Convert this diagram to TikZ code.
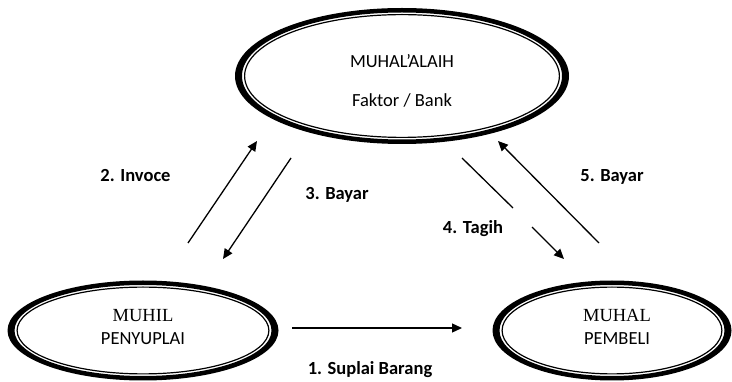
\documentclass[tikz,border=0pt]{standalone}
\usepackage{fontspec}
\setmainfont{Carlito}
\newfontfamily\timesface{Liberation Serif}
\usetikzlibrary{arrows.meta,shapes.geometric}

% thick outer band with a thin inner line, around a named ellipse node
\newcommand\partyring[3]{%
  \fill[even odd rule] #1 ellipse[x radius=#2pt, y radius=#3pt]
                       #1 ellipse[x radius=#2pt-7pt, y radius=#3pt-4.5pt];
  \draw[line width=1.2pt] #1 ellipse[x radius=#2pt-9.6pt, y radius=#3pt-6.6pt];}

\begin{document}
\begin{tikzpicture}[x=1pt,y=-1pt,
  txt/.style={font=\fontsize{18.5}{22}\selectfont, inner sep=0, anchor=base},
  serif/.style={font=\fontsize{18.5}{22}\selectfont\timesface, inner sep=0, anchor=base},
  lbl/.style={font=\fontsize{18.5}{22}\selectfont\bfseries, inner sep=0, anchor=base},
  flow/.style={line width=1.3pt, -{Triangle[length=10pt,width=9pt]}},
  plain/.style={line width=1.3pt},
  party/.style={ellipse, inner sep=0, draw=none}
]
\useasboundingbox (0,0) rectangle (732,382);

% the three parties
\node[party, minimum width=334pt, minimum height=136pt] (bank) at (402,76) {};
\node[party, minimum width=271pt, minimum height=100pt] (muhil) at (143,330.5) {};
\node[party, minimum width=239pt, minimum height=100pt] (muhal) at (612,330.5) {};
\partyring{(bank.center)}{167}{68}
\partyring{(muhil.center)}{135.5}{50}
\partyring{(muhal.center)}{119.5}{50}

\node[txt] (bankA) at (402,68) {MUHAL’ALAIH};
\node[txt] (bankB) at (402,107) {Faktor / Bank};
\node[serif] (muhilA) at (143,322) {MUHIL};
\node[txt] (muhilB) at (143,345) {PENYUPLAI};
\node[serif] (muhalA) at (617,322) {MUHAL};
\node[txt] (muhalB) at (617,345) {PEMBELI};

% arrow end points
\coordinate (s1) at (292,328);   \coordinate (e1) at (462,328);
\coordinate (s2) at (188,243);   \coordinate (e2) at (257,141);
\coordinate (s3) at (291,158);   \coordinate (e3) at (223,259);
\coordinate (s4) at (462,158);   \coordinate (e4) at (564,259);
\coordinate (g4a) at (513,208);  \coordinate (g4b) at (532,227);
\coordinate (s5) at (599,243);   \coordinate (e5) at (498,141);

% flows
\draw[flow] (s1) -- (e1);
\draw[flow] (s2) -- (e2);
\draw[flow] (s3) -- (e3);
\draw[plain] (s4) -- (g4a);
\draw[flow] (g4b) -- (e4);
\draw[flow] (s5) -- (e5);

% flow labels
\node[lbl] (l1) at (370,375) {1. Suplai Barang};
\node[lbl] (l2) at (135.5,182) {2. Invoce};
\node[lbl] (l3) at (337,200) {3. Bayar};
\node[lbl] (l4) at (473,234) {4. Tagih};
\node[lbl] (l5) at (612,182) {5. Bayar};
\end{tikzpicture}
\end{document}
